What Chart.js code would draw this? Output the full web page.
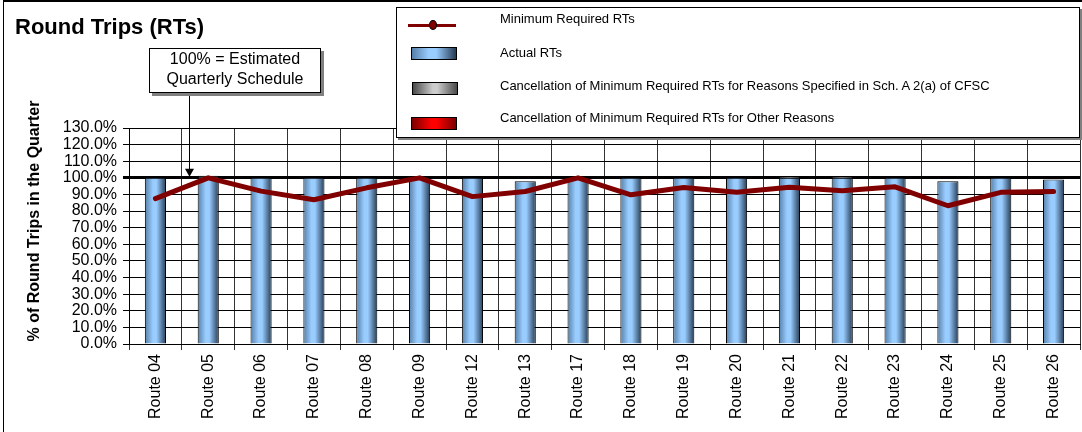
<!DOCTYPE html>
<html lang="en">
<head>
<meta charset="UTF-8">
<title>Round Trips (RTs)</title>
<script src="https://cdn.jsdelivr.net/npm/chart.js"></script>
<style>
body { margin: 0; background: #fff; font-family: 'Liberation Sans', Arial, sans-serif; color: #000; }
.wrap { position: relative; width: 1082px; height: 432px; overflow: hidden; }
#chart { position: absolute; left: 0; top: 0; }
.frame {
  position: absolute; left: 3px; top: 0; width: 1079px; height: 432px;
  border-top: 2px solid #000; border-left: 1px solid #000;
  box-sizing: border-box; pointer-events: none;
}
.title { position: absolute; left: 15px; top: 14px; font-size: 22px; font-weight: bold; line-height: 26px; white-space: nowrap; }
.callout {
  position: absolute; left: 149px; top: 48px; width: 172px; height: 45px;
  box-sizing: border-box; border: 1px solid #000; background: #fff;
  box-shadow: 3px 3px 0 #808080;
  font-size: 16px; line-height: 20px; text-align: center;
}
.legend {
  position: absolute; left: 396px; top: 7px; width: 684px; height: 131px;
  box-sizing: border-box; border: 1px solid #000; background: #fff;
  box-shadow: 2px 2px 0 #808080;
}
.legend .txt { position: absolute; left: 103px; font-size: 13px; line-height: 15px; white-space: nowrap; }
.legend .box { position: absolute; width: 46px; height: 13px; box-sizing: border-box; border: 1px solid #000; }
.legend .ln { position: absolute; left: 11px; width: 48px; height: 3px; background: #800000; }
.legend .dot { position: absolute; left: 32px; width: 8px; height: 10px; box-sizing: border-box; border: 1px solid #000; border-radius: 50%; background: #800000; }
</style>
</head>
<body>
<div class="wrap">
  <canvas id="chart" width="1082" height="432"></canvas>
  <div class="frame"></div>
  <div class="title">Round Trips (RTs)</div>
  <div class="callout">100% = Estimated<br>Quarterly Schedule</div>
  <div class="legend" id="legend"></div>
</div>
<script>
// data
const routes = ['Route 04', 'Route 05', 'Route 06', 'Route 07', 'Route 08', 'Route 09', 'Route 12', 'Route 13', 'Route 17',
                'Route 18', 'Route 19', 'Route 20', 'Route 21', 'Route 22', 'Route 23', 'Route 24', 'Route 25', 'Route 26'];
const minRequired = [87.5, 100, 92, 86.8, 94, 100, 88.7, 91.8, 100, 89.8, 94.2, 91.4, 94.3, 92.2, 94.6, 83.2, 91.3, 91.8];
const actualRTs = [100, 100, 100, 100, 100, 100, 100, 98, 100, 100, 100, 100, 100, 100, 100, 98, 100, 99];
const cancelSpecified = [0, 1.2, 0, 0, 0, 0, 0, 0, 0, 0, 0, 0, 1, 1, 0, 0, 0, 0];
const cancelOther = [0, 0, 0, 0, 0, 0, 0, 0, 0, 0, 0, 0, 0, 0, 0, 0, 0, 0];
const yMax = 130;
const yStep = 10;
const scheduleLine = 100;
const yTitle = '% of Round Trips in the Quarter';

// shading used for bars and legend boxes
const blueStops = [[0, '#557ea6'], [0.38, '#99ccff'], [0.55, '#99ccff'], [1, '#243b53']];
const greyStops = [[0, '#4a4a4a'], [0.45, '#cccccc'], [0.55, '#cccccc'], [1, '#4a4a4a']];
const redStops = [[0, '#7a0000'], [0.45, '#ff0000'], [0.55, '#ff0000'], [1, '#7a0000']];
const BAR_PCT = 0.4;

function barFill(stops) {
    return function (ctx) {
        const chart = ctx.chart;
        const xs = chart.scales && chart.scales.x;
        if (!chart.chartArea || !xs || ctx.type !== 'data') return stops[1][1];
        const cx = xs.getPixelForValue(ctx.dataIndex);
        const half = xs.width / routes.length * BAR_PCT / 2;
        const g = chart.ctx.createLinearGradient(cx - half, 0, cx + half, 0);
        stops.forEach(s => g.addColorStop(s[0], s[1]));
        return g;
    };
}
const hideZero = ctx => (ctx.raw ? 1 : 0);

const overlay = {
    id: 'overlay',
    afterDraw(chart) {
        const ctx = chart.ctx;
        ctx.save();
        ctx.fillStyle = '#000';
        ctx.font = 'bold 16px "Liberation Sans", Arial, sans-serif';
        ctx.translate(39, 221);
        ctx.rotate(-Math.PI / 2);
        ctx.textAlign = 'center';
        ctx.fillText(yTitle, 0, 0);
        ctx.restore();

        // callout arrow to the 100% line
        const tip = chart.scales.y.getPixelForValue(scheduleLine) - 1;
        ctx.save();
        ctx.strokeStyle = '#000';
        ctx.lineWidth = 1;
        ctx.beginPath();
        ctx.moveTo(189.5, 93);
        ctx.lineTo(189.5, tip - 7);
        ctx.stroke();
        ctx.beginPath();
        ctx.moveTo(185, tip - 8);
        ctx.lineTo(194, tip - 8);
        ctx.lineTo(189.5, tip);
        ctx.closePath();
        ctx.fill();
        ctx.restore();
    }
};

Chart.defaults.font.family = '"Liberation Sans", Arial, sans-serif';
Chart.defaults.font.size = 16;
Chart.defaults.color = '#000';

const chart = new Chart(document.getElementById('chart'), {
    data: {
        labels: routes,
        datasets: [{
            type: 'line',
            label: 'Minimum Required RTs',
            data: minRequired,
            stack: 'min',
            borderColor: '#800000',
            backgroundColor: '#800000',
            borderWidth: 5,
            pointRadius: 0,
            tension: 0,
            borderCapStyle: 'round',
            borderJoinStyle: 'round'
        }, {
            type: 'bar',
            label: 'Actual RTs',
            data: actualRTs,
            stack: 'rt',
            stops: blueStops,
            backgroundColor: barFill(blueStops),
            borderColor: '#000',
            borderWidth: hideZero
        }, {
            type: 'bar',
            label: 'Cancellation of Minimum Required RTs for Reasons Specified in Sch. A 2(a) of CFSC',
            data: cancelSpecified,
            stack: 'rt',
            stops: greyStops,
            backgroundColor: barFill(greyStops),
            borderColor: '#000',
            borderWidth: hideZero
        }, {
            type: 'bar',
            label: 'Cancellation of Minimum Required RTs for Other Reasons',
            data: cancelOther,
            stack: 'rt',
            stops: redStops,
            backgroundColor: barFill(redStops),
            borderColor: '#000',
            borderWidth: hideZero
        }]
    },
    options: {
        responsive: false,
        animation: false,
        events: [],
        layout: { padding: { top: 128, right: 2, left: 0, bottom: 0 } },
        datasets: { bar: { barPercentage: BAR_PCT, categoryPercentage: 1 } },
        plugins: { legend: { display: false }, tooltip: { enabled: false } },
        scales: {
            x: {
                stacked: true,
                border: { color: '#000' },
                grid: { offset: true, color: '#333', tickLength: 6 },
                ticks: { autoSkip: false, minRotation: 90, maxRotation: 90, padding: 4 },
                afterFit(scale) { scale.height = 88; }
            },
            y: {
                stacked: true,
                min: 0,
                max: yMax,
                border: { color: '#000' },
                grid: {
                    color: '#000',
                    tickLength: 6,
                    lineWidth: ctx => (ctx.tick && ctx.tick.value === scheduleLine ? 3 : 1)
                },
                ticks: { stepSize: yStep, autoSkip: false, padding: 6, callback: v => v.toFixed(1) + '%' },
                afterFit(scale) { scale.width = 129; }
            }
        }
    },
    plugins: [overlay]
});

// legend box built from the datasets
const textTops = [3, 37, 70, 102];
const swatchTops = [39, 74, 109];
const legend = document.getElementById('legend');
chart.data.datasets.forEach((ds, i) => {
    if (ds.type === 'line') {
        const ln = document.createElement('div');
        ln.className = 'ln';
        ln.style.top = '16px';
        const dot = document.createElement('div');
        dot.className = 'dot';
        dot.style.top = '12px';
        legend.append(ln, dot);
    } else {
        const box = document.createElement('div');
        box.className = 'box';
        box.style.left = (i === 2 ? 15 : 14) + 'px';
        box.style.top = swatchTops[i - 1] + 'px';
        box.style.background = 'linear-gradient(to right, ' +
            ds.stops.map(s => s[1] + ' ' + (s[0] * 100) + '%').join(', ') + ')';
        legend.append(box);
    }
    const t = document.createElement('div');
    t.className = 'txt';
    t.style.top = textTops[i] + 'px';
    t.textContent = ds.label;
    legend.append(t);
});
</script>
</body>
</html>
